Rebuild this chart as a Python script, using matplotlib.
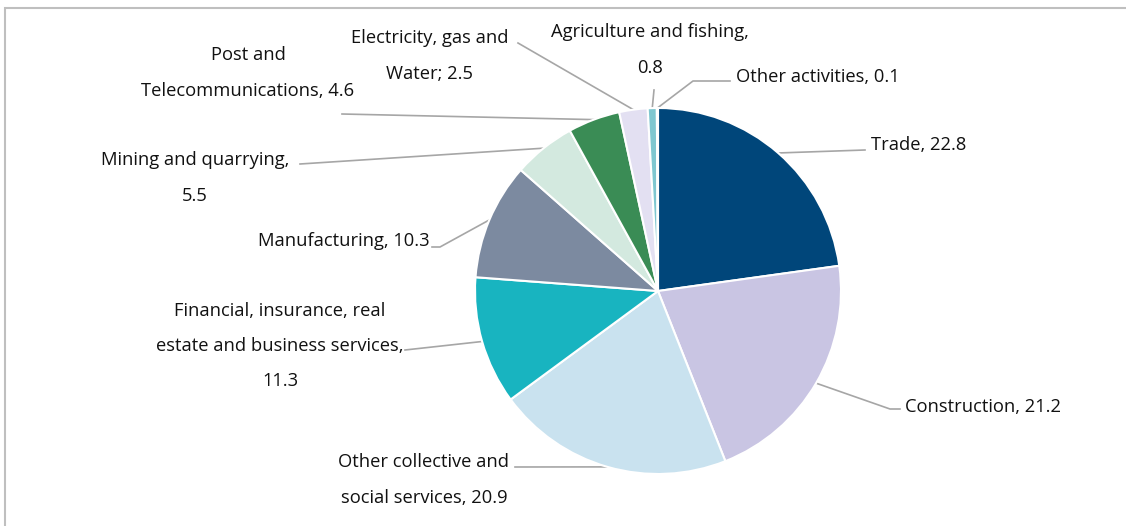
import matplotlib.pyplot as plt
import numpy as np
from matplotlib.patches import Rectangle

sectors = ["Trade", "Construction", "Other collective and social services",
           "Financial, insurance, real estate and business services",
           "Manufacturing", "Mining and quarrying", "Post and Telecommunications",
           "Electricity, gas and Water", "Agriculture and fishing", "Other activities"]
shares = [22.8, 21.2, 20.9, 11.3, 10.3, 5.5, 4.6, 2.5, 0.8, 0.1]
label_texts = ["Trade, 22.8", "Construction, 21.2",
               "Other collective and\nsocial services, 20.9",
               "Financial, insurance, real\nestate and business services,\n11.3",
               "Manufacturing, 10.3", "Mining and quarrying,\n5.5",
               "Post and\nTelecommunications, 4.6",
               "Electricity, gas and\nWater; 2.5",
               "Agriculture and fishing,\n0.8", "Other activities, 0.1"]
colors = ["#00467a", "#c9c5e3", "#c9e2ef", "#18b4c0", "#7c8aa0",
          "#d3e9df", "#3a8c55", "#e3e0f2", "#7fc7d0", "#2a6f97"]

# label placement: text anchor, alignment, leader path after the wedge edge
layout = [
    ((871, 145), "left", [(865, 150)]),
    ((905, 407), "left", [(890, 409), (900, 409)]),
    ((424, 480), "center", [(515, 467)]),
    ((280, 346), "center", [(405, 350)]),
    ((430, 241), "right", [(440, 247), (432, 247)]),
    ((195, 178), "center", [(300, 164)]),
    ((248, 73), "center", [(342, 114)]),
    ((430, 56), "center", [(518, 43)]),
    ((650, 50), "center", [(654, 90)]),
    ((736, 77), "left", [(693, 81), (730, 81)]),
]

plt.rcParams['font.family'] = ['Open Sans', 'DejaVu Sans']

fig = plt.figure(figsize=(11.26, 5.26), dpi=100)
ax = fig.add_axes([0, 0, 1, 1])
cx, cy, r = 658, 291, 183

wedges, _ = ax.pie(shares, colors=colors, startangle=90, counterclock=False,
                   center=(cx, -cy), radius=r,
                   wedgeprops=dict(edgecolor="white", linewidth=1.5))

for w, txt, (pos, ha, path) in zip(wedges, label_texts, layout):
    mid = np.deg2rad((w.theta1 + w.theta2) / 2)
    ex, ey = cx + r * np.cos(mid), cy - r * np.sin(mid)
    pts = [(ex, ey)] + path
    ax.plot([p[0] for p in pts], [-p[1] for p in pts], color="#a6a6a6", lw=1.2, zorder=0)
    ax.text(pos[0], -pos[1], txt, ha=ha, va="center", fontsize=13.2,
            color="#111111", linespacing=2.25)

ax.add_patch(Rectangle((5, -540), 1140, 532, fill=False, edgecolor="#bfbfbf", lw=1.5))
ax.set_xlim(0, 1126)
ax.set_ylim(-526, 0)
ax.set_aspect("equal")
ax.axis("off")

fig.savefig("out.png", dpi=100)
